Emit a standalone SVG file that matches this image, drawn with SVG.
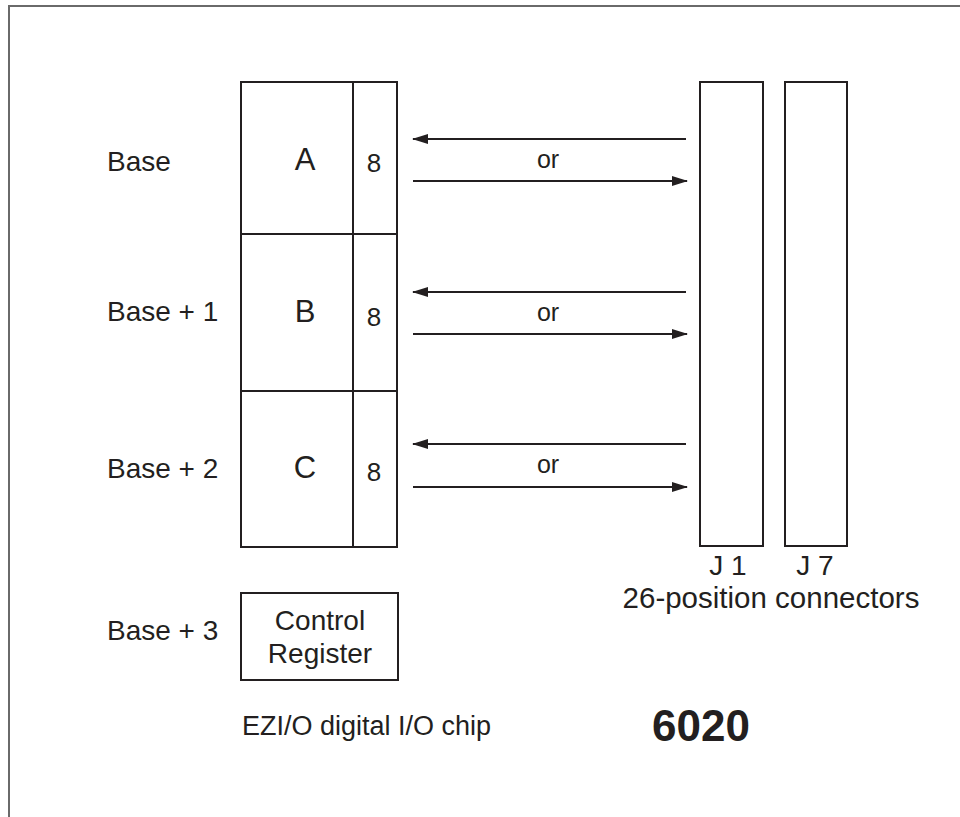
<svg xmlns="http://www.w3.org/2000/svg" width="960" height="817" viewBox="0 0 960 817">
<defs>
<style>
.frame{fill:none;stroke:#6a6a6a;stroke-width:2}
.box{fill:#fff;stroke:#231f20;stroke-width:2}
.ln{fill:none;stroke:#231f20;stroke-width:2}
.t{font-family:"Liberation Sans",Arial,sans-serif;fill:#231f20;font-size:28px}
.c{text-anchor:middle}
.arr{stroke:#231f20;stroke-width:2;fill:none;marker-end:url(#ah)}
</style>
<marker id="ah" viewBox="0 0 16 10" refX="15" refY="5" markerWidth="16" markerHeight="10" markerUnits="userSpaceOnUse" orient="auto">
<path d="M0,0 L16,5 L0,10 Z" fill="#231f20"/>
</marker>
</defs>
<rect width="960" height="817" fill="#fff"/>
<path class="frame" d="M9,817 V6 H960"/>

<g id="chip">
<rect class="box" x="241" y="82" width="156" height="465"/>
<path class="ln" d="M353,82 V547 M241,234 H397 M241,391 H397"/>
</g>
<g id="portA">
<text class="t c" x="305" y="170" style="font-size:31px">A</text>
<text class="t c" x="374" y="172" style="font-size:26px">8</text>
</g>
<g id="portB">
<text class="t c" x="305" y="322" style="font-size:31px">B</text>
<text class="t c" x="374" y="326" style="font-size:26px">8</text>
</g>
<g id="portC">
<text class="t c" x="305" y="478" style="font-size:31px">C</text>
<text class="t c" x="374" y="481" style="font-size:26px">8</text>
</g>
<g id="control">
<rect class="box" x="241" y="593" width="157" height="87"/>
<text class="t c" x="320" y="630">Control</text>
<text class="t c" x="320" y="663">Register</text>
</g>
<g id="J1">
<rect class="box" x="700" y="82" width="63" height="464"/>
<text class="t c" x="728" y="575">J 1</text>
</g>
<g id="J7">
<rect class="box" x="785" y="82" width="62" height="464"/>
<text class="t c" x="815" y="575">J 7</text>
</g>
<g id="labels">
<text class="t" x="107" y="171">Base</text>
<text class="t" x="107" y="321">Base + 1</text>
<text class="t" x="107" y="478">Base + 2</text>
<text class="t" x="107" y="640">Base + 3</text>
<text class="t c" x="771" y="608" style="font-size:29.5px">26-position connectors</text>
<text class="t" x="242" y="735" style="font-size:27px">EZI/O digital I/O chip</text>
<text class="t" x="652" y="741" style="font-size:44px;font-weight:bold">6020</text>
</g>
<g id="connectors">
<line class="arr" x1="686" y1="139" x2="413" y2="139"/>
<line class="arr" x1="413" y1="181" x2="687" y2="181"/>
<text class="t c" x="548" y="168" style="font-size:25px">or</text>
<line class="arr" x1="686" y1="292" x2="413" y2="292"/>
<line class="arr" x1="413" y1="334" x2="687" y2="334"/>
<text class="t c" x="548" y="321" style="font-size:25px">or</text>
<line class="arr" x1="686" y1="444" x2="413" y2="444"/>
<line class="arr" x1="413" y1="487" x2="687" y2="487"/>
<text class="t c" x="548" y="473" style="font-size:25px">or</text>
</g>
</svg>
